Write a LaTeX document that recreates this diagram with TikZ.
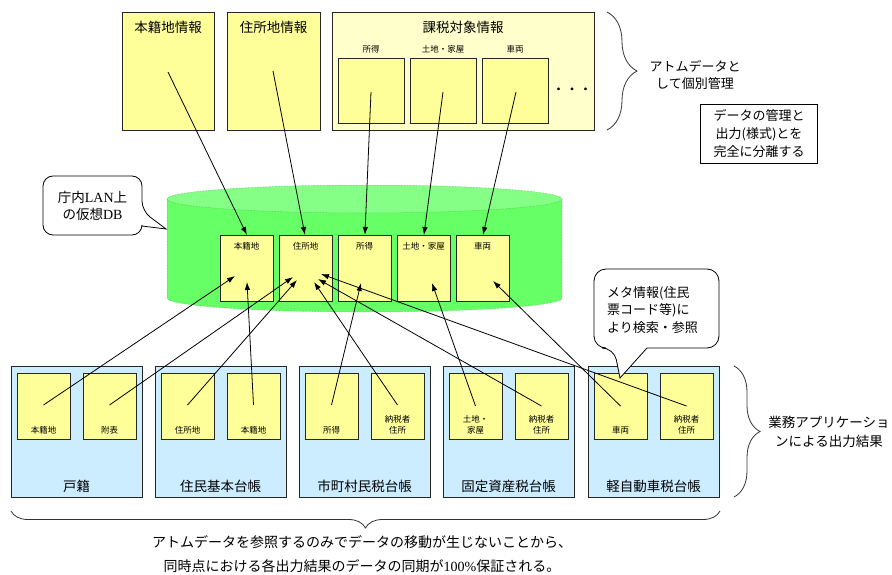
\documentclass[tikz,border=0pt]{standalone}
\usepackage{fontspec}
\setmainfont{Noto Sans CJK JP}
\newfontfamily\serifL{Liberation Serif}
\usetikzlibrary{arrows.meta,decorations.pathreplacing}
\definecolor{cYel}{HTML}{FFFF99}
\definecolor{cPale}{HTML}{FFFFCC}
\definecolor{cBlue}{HTML}{CCECFF}
\definecolor{cGreen}{HTML}{66FF66}
\definecolor{cGreenTop}{HTML}{85FF85}
\definecolor{cGreenLine}{HTML}{44BB44}
\begin{document}
\begin{tikzpicture}[x=1pt,y=-1pt,
  boxbase/.style={draw=black!85, line width=0.9pt, inner sep=0pt, anchor=north west},
  ycard/.style={boxbase, fill=cYel},
  pcard/.style={boxbase, fill=cPale},
  bcard/.style={boxbase, fill=cBlue},
  hdr/.style={font=\fontsize{13.5}{16}\selectfont, inner sep=0pt},
  tiny/.style={font=\fontsize{8.5}{11.5}\selectfont, inner sep=0pt, align=center},
  note/.style={font=\fontsize{13}{17.5}\selectfont, inner sep=0pt, align=center},
  arr/.style={-{Latex[length=8pt,width=5.5pt]}, line width=0.8pt},
  callout/.style={draw=black, fill=white, line width=0.8pt},
  bracestyle/.style={decorate, line width=0.8pt, draw=black!80}
]
\useasboundingbox (0,0) rectangle (892,575);

% ---------- top section ----------
\node[ycard, minimum width=92pt, minimum height=118pt] (honsekiInfo) at (122,12) {};
\node[hdr] (honsekiInfoL) at (168,27) {本籍地情報};
\node[ycard, minimum width=93pt, minimum height=118pt] (jushoInfo) at (227,12) {};
\node[hdr] (jushoInfoL) at (273.5,27) {住所地情報};
\node[pcard, minimum width=262pt, minimum height=118pt] (kazei) at (332,12) {};
\node[hdr] (kazeiL) at (463,27) {課税対象情報};
\node[ycard, minimum width=66pt, minimum height=65pt] (kzA) at (338,58) {};
\node[ycard, minimum width=66pt, minimum height=65pt] (kzB) at (410,58) {};
\node[ycard, minimum width=66pt, minimum height=65pt] (kzC) at (482,58) {};
\node[tiny] (kzAL) at (371,49) {所得};
\node[tiny] (kzBL) at (443,49) {土地・家屋};
\node[tiny] (kzCL) at (515,49) {車両};
\node[hdr] (dots) at (572,91) {・・・};

\draw[bracestyle, decoration={brace, amplitude=30pt}] (607,12) -- (607,130);
\node[note] (atomL) at (695,75) {アトムデータと\\して個別管理};

\node[draw=black, line width=0.8pt, fill=white, minimum width=117pt, minimum height=59pt, inner sep=0pt, anchor=north west] (sepBox) at (700,104) {};
\node[note, font=\fontsize{13}{18}\selectfont] (sepL) at (759,134) {データの管理と\\出力(様式)とを\\完全に分離する};

% ---------- cylinder ----------
\fill[cGreen] (167,199) rectangle (562,298);
\fill[cGreen] (364.5,298) ellipse [x radius=197.5pt, y radius=14pt];
\draw[cGreenLine, densely dotted, line width=0.5pt] (167,199) -- (167,298) arc[start angle=180, end angle=360, x radius=197.5pt, y radius=14pt] -- (562,199);
\draw[cGreenLine, densely dotted, line width=0.5pt, fill=cGreenTop] (364.5,199) ellipse [x radius=197.5pt, y radius=14pt];

\node[ycard, minimum width=53pt, minimum height=66pt] (dbA) at (220,235) {};
\node[ycard, minimum width=53pt, minimum height=66pt] (dbB) at (279,235) {};
\node[ycard, minimum width=53pt, minimum height=66pt] (dbC) at (338,235) {};
\node[ycard, minimum width=53pt, minimum height=66pt] (dbD) at (397,235) {};
\node[ycard, minimum width=53pt, minimum height=66pt] (dbE) at (456,235) {};
\node[tiny] (dbAL) at (246.5,246) {本籍地};
\node[tiny] (dbBL) at (305.5,246) {住所地};
\node[tiny] (dbCL) at (364.5,246) {所得};
\node[tiny] (dbDL) at (423.5,246) {土地・家屋};
\node[tiny] (dbEL) at (482.5,246) {車両};

% callout: virtual DB
\draw[callout] (43,205) [rounded corners=10pt] -- (43,176) -- (142,176) -- (142,211) [sharp corners] -- (166,229) -- (142,226) [rounded corners=10pt] -- (142,235) -- (43,235) -- cycle;
\node[note, font=\fontsize{13.5}{17}\selectfont] (vdbL) at (92.5,206) {庁内{\serifL\fontsize{14}{17}\selectfont LAN}上\\の仮想{\serifL\fontsize{14}{17}\selectfont DB}};

% ---------- bottom section ----------
\node[bcard, minimum width=131pt, minimum height=131pt] (gA) at (11,366) {};
\node[bcard, minimum width=131pt, minimum height=131pt] (gB) at (155,366) {};
\node[bcard, minimum width=131pt, minimum height=131pt] (gC) at (299,366) {};
\node[bcard, minimum width=131pt, minimum height=131pt] (gD) at (443,366) {};
\node[bcard, minimum width=131pt, minimum height=131pt] (gE) at (588,366) {};
\node[hdr] (gAL) at (76.5,486) {戸籍};
\node[hdr] (gBL) at (220.5,486) {住民基本台帳};
\node[hdr] (gCL) at (364.5,486) {市町村民税台帳};
\node[hdr] (gDL) at (508.5,486) {固定資産税台帳};
\node[hdr] (gEL) at (653.5,486) {軽自動車税台帳};

\node[ycard, minimum width=53pt, minimum height=66pt] (gA1) at (17,373) {};
\node[ycard, minimum width=53pt, minimum height=66pt] (gA2) at (83,373) {};
\node[ycard, minimum width=53pt, minimum height=66pt] (gB1) at (161,373) {};
\node[ycard, minimum width=53pt, minimum height=66pt] (gB2) at (227,373) {};
\node[ycard, minimum width=53pt, minimum height=66pt] (gC1) at (305,373) {};
\node[ycard, minimum width=53pt, minimum height=66pt] (gC2) at (371,373) {};
\node[ycard, minimum width=53pt, minimum height=66pt] (gD1) at (449,373) {};
\node[ycard, minimum width=53pt, minimum height=66pt] (gD2) at (515,373) {};
\node[ycard, minimum width=53pt, minimum height=66pt] (gE1) at (594,373) {};
\node[ycard, minimum width=53pt, minimum height=66pt] (gE2) at (660,373) {};
\node[tiny] (gA1L) at (43.5,430) {本籍地};
\node[tiny] (gA2L) at (109.5,430) {附表};
\node[tiny] (gB1L) at (187.5,430) {住所地};
\node[tiny] (gB2L) at (253.5,430) {本籍地};
\node[tiny] (gC1L) at (331.5,430) {所得};
\node[tiny] (gC2L) at (397.5,425) {納税者\\住所};
\node[tiny] (gD1L) at (475.5,425) {土地・\\家屋};
\node[tiny] (gD2L) at (541.5,425) {納税者\\住所};
\node[tiny] (gE1L) at (620.5,430) {車両};
\node[tiny] (gE2L) at (686.5,425) {納税者\\住所};

% ---------- connectors: top -> DB ----------
\coordinate (tA) at (168,72);
\coordinate (tB) at (273,71);
\coordinate (tC) at (371,92);
\coordinate (tD) at (443,92);
\coordinate (tE) at (516,92);
\draw[arr] (tA) -- (dbA.north);
\draw[arr] (tB) -- ([xshift=-1pt]dbB.north);
\draw[arr] (tC) -- (dbC.north);
\draw[arr] (tD) -- (dbD.north);
\draw[arr] (tE) -- (dbE.north);

% ---------- connectors: applications -> DB ----------
\coordinate (sA1) at (43.5,405);  \coordinate (eA1) at (235,276);
\coordinate (sA2) at (109.5,405); \coordinate (eA2) at (293,277);
\coordinate (sB1) at (187.5,405); \coordinate (eB1) at (297,280);
\coordinate (sB2) at (253.5,405); \coordinate (eB2) at (247,282);
\coordinate (sC1) at (331.5,405); \coordinate (eC1) at (361,283);
\coordinate (sC2) at (397.5,405); \coordinate (eC2) at (314,282);
\coordinate (sD1) at (475.5,406); \coordinate (eD1) at (432,283);
\coordinate (sD2) at (541.5,406); \coordinate (eD2) at (318,279);
\coordinate (sE1) at (620.5,406); \coordinate (eE1) at (493,281);
\coordinate (sE2) at (686.5,406); \coordinate (eE2) at (321,274);
\foreach \k in {A1,A2,B1,B2,C1,C2,D1,D2,E1,E2}
  \draw[arr] (s\k) -- (e\k);

% callout: meta information
\draw[callout] (656,348) [rounded corners=12pt] -- (719,348) -- (719,269) -- (594,269) -- (594,348) -- (614,348) [sharp corners] -- (620,378) -- (647,348) -- (656,348);
\node[note, align=left, anchor=west] (metaL) at (607,310) {メタ情報(住民\\票コード等)に\\より検索・参照};

% ---------- braces and notes ----------
\draw[bracestyle, decoration={brace, amplitude=26pt}] (734,366) -- (734,497);
\node[note, font=\fontsize{13.5}{19}\selectfont] (gyomuL) at (829,432) {業務アプリケーショ\\ンによる出力結果};

\draw[bracestyle, decoration={brace, mirror, amplitude=17pt}] (11,511) -- (720,511);
\node[font=\fontsize{14}{24}\selectfont, align=center, inner sep=0pt] (conclL) at (362,554) {アトムデータを参照するのみでデータの移動が生じないことから、\\同時点における各出力結果のデータの同期が{\serifL 100\%}保証される。};
\end{tikzpicture}
\end{document}
